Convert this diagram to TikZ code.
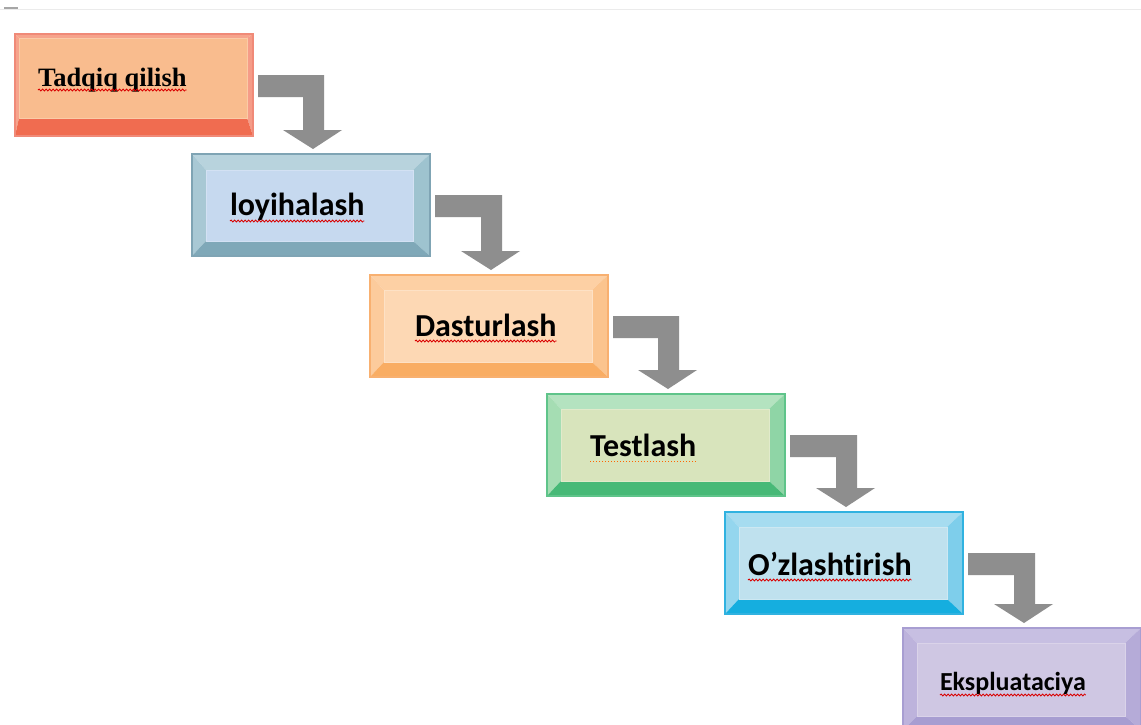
\documentclass[tikz,border=0pt]{standalone}
\usepackage{fontspec}
\setmainfont{Carlito}[RawFeature={-liga;-clig;-dlig;-calt}]
\newfontfamily\serfont{Liberation Serif}
\usetikzlibrary{calc,decorations.pathmorphing}
% colours
\definecolor{arrowgray}{HTML}{8E8E8E}
\definecolor{a-border}{HTML}{F08A78}\definecolor{a-face}{HTML}{F9BC8E}\definecolor{a-top}{HTML}{F6A48C}\definecolor{a-left}{HTML}{F6A48C}\definecolor{a-right}{HTML}{F59C88}\definecolor{a-bottom}{HTML}{F06C50}
\definecolor{b-border}{HTML}{7FA4B4}\definecolor{b-face}{HTML}{C6D9EF}\definecolor{b-top}{HTML}{B8D3DD}\definecolor{b-left}{HTML}{A8C8D4}\definecolor{b-right}{HTML}{9EC3CF}\definecolor{b-bottom}{HTML}{7FA8B8}
\definecolor{c-border}{HTML}{F8B070}\definecolor{c-face}{HTML}{FDD8B4}\definecolor{c-top}{HTML}{FDD0A4}\definecolor{c-left}{HTML}{FCCB9C}\definecolor{c-right}{HTML}{FBC48E}\definecolor{c-bottom}{HTML}{F9AD63}
\definecolor{d-border}{HTML}{5FC48A}\definecolor{d-face}{HTML}{D8E4BC}\definecolor{d-top}{HTML}{B4E3C0}\definecolor{d-left}{HTML}{A5DDB3}\definecolor{d-right}{HTML}{8FD5A6}\definecolor{d-bottom}{HTML}{47B977}
\definecolor{e-border}{HTML}{30B2E0}\definecolor{e-face}{HTML}{BFE1EE}\definecolor{e-top}{HTML}{A6DCF0}\definecolor{e-left}{HTML}{94D6EE}\definecolor{e-right}{HTML}{7ECEEB}\definecolor{e-bottom}{HTML}{15AEDF}
\definecolor{f-border}{HTML}{A89ED2}\definecolor{f-face}{HTML}{CFC7E3}\definecolor{f-top}{HTML}{C7BFE2}\definecolor{f-left}{HTML}{BDB3DC}\definecolor{f-right}{HTML}{B5ABD8}\definecolor{f-bottom}{HTML}{A79DD1}
\tikzset{
  boxbase/.style={anchor=north west, minimum width=238pt, minimum height=102pt, inner sep=0pt, outer sep=0pt},
  lbl/.style={anchor=base west, inner sep=0pt, outer sep=0pt, font=\fontsize{32}{36}\selectfont\bfseries, text=black},
  spell/.style={draw=red!85!black, line width=0.8pt, decorate, decoration={snake, segment length=3.5pt, amplitude=1pt}},
  spelldot/.style={draw=orange!80!red, line width=1pt, dotted},
}
% \bevelbox{node}{colour prefix}{top}{left}{right}{bottom}
\newcommand\bevelbox[6]{%
  \fill[#2-top] (#1.north west) -- (#1.north east) -- ($(#1.north east)+(-#5,#3)$) -- ($(#1.north west)+(#4,#3)$) -- cycle;
  \fill[#2-left] (#1.north west) -- ($(#1.north west)+(#4,#3)$) -- ($(#1.south west)+(#4,-#6)$) -- (#1.south west) -- cycle;
  \fill[#2-right] (#1.north east) -- (#1.south east) -- ($(#1.south east)+(-#5,-#6)$) -- ($(#1.north east)+(-#5,#3)$) -- cycle;
  \fill[#2-bottom] (#1.south west) -- (#1.south east) -- ($(#1.south east)+(-#5,-#6)$) -- ($(#1.south west)+(#4,-#6)$) -- cycle;
  \draw[fill=#2-face, draw=white!22!#2-face, line width=1pt] ($(#1.north west)+(#4,#3)$) rectangle ($(#1.south east)+(-#5,-#6)$);
  \draw[#2-border, line width=1.2pt] (#1.north west) rectangle (#1.south east);
}
% \elbow{from box}{to box}
\newcommand\elbow[2]{%
  \fill[arrowgray] let \p1=(#1.north east), \p2=(#2.north) in
    (\x1+5pt,\y1-41pt) -- (\x2+13pt,\y1-41pt) -- (\x2+13pt,\y2+24pt) -- (\x2+31pt,\y2+24pt)
    -- (\x2+2pt,\y2+5pt) -- (\x2-28pt,\y2+24pt) -- (\x2-8pt,\y2+24pt) -- (\x2-8pt,\y1-63pt)
    -- (\x1+5pt,\y1-63pt) -- cycle;
}
\begin{document}
\begin{tikzpicture}[x=1pt,y=-1pt]
\useasboundingbox (0,0) rectangle (1141,724);
\clip (0,0) rectangle (1141,724);
\fill[white] (0,0) rectangle (1141,724);
\draw[black!8, line width=1pt] (0,9) -- (1141,9);
\draw[black!35, line width=1.5pt] (4,8) -- (18,8);
% boxes
\node[boxbase] (b1) at (15,34) {};
\node[boxbase] (b2) at (192,154) {};
\node[boxbase] (b3) at (370,275) {};
\node[boxbase] (b4) at (547,394) {};
\node[boxbase] (b5) at (725,512) {};
\node[boxbase] (b6) at (903,628) {};
\bevelbox{b1}{a}{4}{4}{6}{18}
\bevelbox{b2}{b}{16}{14}{17}{15}
\bevelbox{b3}{c}{15}{14}{16}{15}
\bevelbox{b4}{d}{15}{14}{16}{15}
\bevelbox{b5}{e}{15}{14}{16}{15}
\bevelbox{b6}{f}{15}{14}{16}{14}
% arrows
\elbow{b1}{b2}
\elbow{b2}{b3}
\elbow{b3}{b4}
\elbow{b4}{b5}
\elbow{b5}{b6}
% labels
\node[lbl, font=\fontsize{26.5}{30}\selectfont\serfont\bfseries] (t1) at (38,86) {Tadqiq qilish};
\node[lbl] (t2) at (230,215) {loyihalash};
\node[lbl] (t3) at (415,336) {Dasturlash};
\node[lbl] (t4) at (590,456) {Testlash};
\node[lbl] (t5) at (748,575) {O’zlashtirish};
\node[lbl, font=\fontsize{26}{30}\selectfont\bfseries] (t6) at (940,690) {Ekspluataciya};
% spelling marks
\draw[spell] ($(t1.base west)+(0,4)$) -- ($(t1.base east)+(0,4)$);
\draw[spell] ($(t2.base west)+(0,6)$) -- ($(t2.base east)+(0,6)$);
\draw[spell] ($(t3.base west)+(0,5)$) -- ($(t3.base east)+(0,5)$);
\draw[spelldot] ($(t4.base west)+(0,5)$) -- ($(t4.base east)+(0,5)$);
\draw[spell] ($(t5.base west)+(0,5)$) -- ($(t5.base east)+(0,5)$);
\draw[spell] ($(t6.base west)+(0,5)$) -- ($(t6.base east)+(0,5)$);
\end{tikzpicture}
\end{document}
